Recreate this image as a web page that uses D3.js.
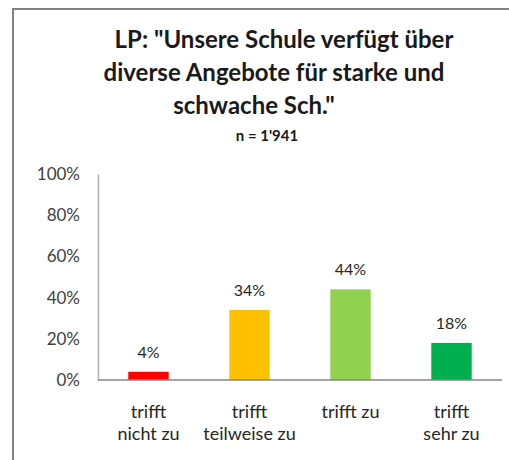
<!DOCTYPE html>
<html>
<head>
<meta charset="utf-8">
<script src="https://cdn.jsdelivr.net/npm/d3@7"></script>
<style>
  body { margin: 0; background: #fff; }
  text { font-family: Lato, "Open Sans", sans-serif; }
</style>
</head>
<body>
<svg id="chart" width="509" height="460"></svg>
<script>
// ---- data ----
var categories = [["trifft", "nicht zu"], ["trifft", "teilweise zu"], ["trifft zu"], ["trifft", "sehr zu"]];
var values = [4, 34, 44, 18];
var colors = ["#FF0000", "#FFC000", "#92D050", "#00B050"];
var yTicks = [0, 20, 40, 60, 80, 100];
var titleLines = ['LP: "Unsere Schule verfügt über', 'diverse Angebote für starke und', 'schwache Sch."'];
var subtitle = "n = 1'941";

var svg = d3.select("#chart");

// frame (cut off on right / bottom like the original)
svg.append("path")
   .attr("d", "M13,460 L13,9 L509,9")
   .attr("fill", "none").attr("stroke", "#808080").attr("stroke-width", 2);

// title
var titleX = [284, 274, 254];
var titleY = [48, 81, 114];
svg.selectAll(".title").data(titleLines).enter()
   .append("text").attr("class", "title")
   .attr("x", (d, i) => titleX[i]).attr("y", (d, i) => titleY[i])
   .attr("text-anchor", "middle")
   .style("font-size", "24px").style("font-weight", "bold").attr("fill", "#1a1a1a")
   .text(d => d);

svg.append("text")
   .attr("x", 267).attr("y", 141).attr("text-anchor", "middle")
   .style("font-size", "15px").style("font-weight", "bold").attr("fill", "#1a1a1a")
   .text(subtitle);

// scales
var x = d3.scaleBand().domain(d3.range(values.length)).range([98, 502]).paddingInner(0.6).paddingOuter(0.3);
var y = d3.scaleLinear().domain([0, 100]).range([380, 174]);

// y axis
var yAxis = svg.append("g").attr("transform", "translate(98,0)")
   .call(d3.axisLeft(y).tickValues(yTicks).tickFormat(d => d + "%").tickSize(0).tickPadding(18));
yAxis.select(".domain").attr("stroke", "#b0b0b0").attr("stroke-width", 1.5);
yAxis.selectAll("text").style("font-size", "17px").attr("fill", "#404040")
   .style("font-family", "Lato, sans-serif");

// bars
svg.selectAll(".bar").data(values).enter()
   .append("rect").attr("class", "bar")
   .attr("x", (d, i) => x(i)).attr("width", x.bandwidth())
   .attr("y", d => y(d)).attr("height", d => y(0) - y(d))
   .attr("fill", (d, i) => colors[i]);

// x axis line
svg.append("line")
   .attr("x1", 98).attr("x2", 502).attr("y1", y(0)).attr("y2", y(0))
   .attr("stroke", "#868686").attr("stroke-width", 1.5);

// value labels
svg.selectAll(".val").data(values).enter()
   .append("text").attr("class", "val")
   .attr("x", (d, i) => x(i) + x.bandwidth() / 2)
   .attr("y", d => y(d) - 14)
   .attr("text-anchor", "middle")
   .style("font-size", "16px").attr("fill", "#262626")
   .text(d => d + "%");

// category labels
var cat = svg.selectAll(".cat").data(categories).enter()
   .append("text").attr("class", "cat")
   .attr("x", (d, i) => x(i) + x.bandwidth() / 2)
   .attr("y", 418)
   .attr("text-anchor", "middle")
   .style("font-size", "18px").attr("fill", "#262626");
cat.selectAll("tspan").data(d => d).enter()
   .append("tspan")
   .attr("x", function() { return d3.select(this.parentNode).attr("x"); })
   .attr("dy", (d, i) => i == 0 ? 0 : 22)
   .text(d => d);
</script>
</body>
</html>
